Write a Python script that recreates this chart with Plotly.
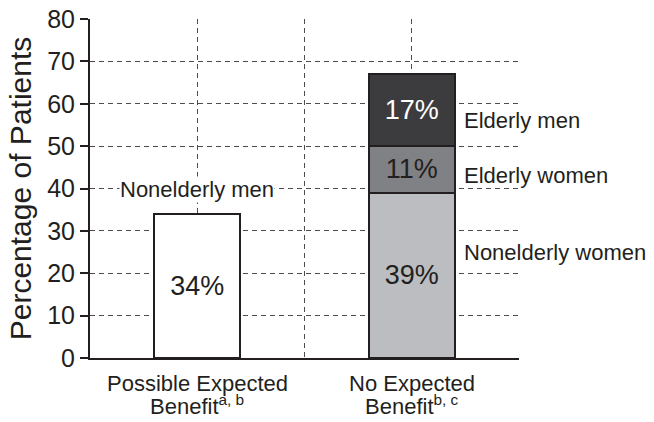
import plotly.graph_objects as go

# Data
cat_line1 = ["Possible Expected", "No Expected"]
cat_line2 = ["Benefit<sup>a, b</sup>", "Benefit<sup>b, c</sup>"]
cat_pos = [0, 2]
nonelderly_men = [34, 0]
nonelderly_women = [0, 39]
elderly_women = [0, 11]
elderly_men = [0, 17]
y_ticks = [0, 10, 20, 30, 40, 50, 60, 70, 80]

FONT = "Liberation Sans, Arial, Helvetica, sans-serif"
LINE = "#231f20"

fig = go.Figure()

def add_bar(name, vals, color, txtcolor):
    xs = [p for p, v in zip(cat_pos, vals) if v]
    ys = [v for v in vals if v]
    fig.add_trace(go.Bar(
        x=xs, y=ys, name=name, width=0.8,
        marker=dict(color=color, line=dict(color=LINE, width=2)),
        text=[f"{v}%" for v in ys], textposition="inside",
        insidetextanchor="middle", textangle=0,
        textfont=dict(family=FONT, size=27, color=txtcolor),
        showlegend=False, hoverinfo="skip",
    ))

add_bar("Nonelderly men", nonelderly_men, "#ffffff", "#231f20")
add_bar("Nonelderly women", nonelderly_women, "#bcbdc0", "#231f20")
add_bar("Elderly women", elderly_women, "#808184", "#231f20")
add_bar("Elderly men", elderly_men, "#3c3c3e", "#ffffff")

SEG = dict(family=FONT, size=22, color=LINE)
# Segment labels
fig.add_annotation(x=cat_pos[0], y=39.7, text="Nonelderly men", showarrow=False,
                   font=SEG, bgcolor="white", borderpad=0)
label_x = cat_pos[1] + 0.47
fig.add_annotation(x=label_x, y=56, text="Elderly men", xanchor="left", showarrow=False, font=SEG)
fig.add_annotation(x=label_x, y=43, text="Elderly women", xanchor="left", showarrow=False, font=SEG)
fig.add_annotation(x=label_x, y=25, text="Nonelderly women", xanchor="left", showarrow=False, font=SEG)

# Category labels (two lines each)
for p, l1, l2 in zip(cat_pos, cat_line1, cat_line2):
    fig.add_annotation(x=p, xref="x", y=0, yref="paper", yanchor="middle", yshift=-25,
                       text=l1, showarrow=False, font=SEG)
    fig.add_annotation(x=p, xref="x", y=0, yref="paper", yanchor="middle", yshift=-47,
                       text=l2, showarrow=False, font=SEG)

fig.update_layout(
    width=654, height=422,
    margin=dict(l=90, r=135, t=19, b=64),
    paper_bgcolor="white", plot_bgcolor="white",
    barmode="stack",
    font=dict(family=FONT, color=LINE),
    xaxis=dict(
        range=[-1, 3],
        tickvals=[0, 1, 2],
        showticklabels=False,
        showgrid=True, gridcolor="#4d4d4d", gridwidth=1, griddash="5px,4px",
        showline=True, linecolor=LINE, linewidth=2,
        ticks="", automargin=False,
        zeroline=False, fixedrange=True,
    ),
    yaxis=dict(
        range=[0, 80],
        tickvals=y_ticks,
        showgrid=True, gridcolor="#4d4d4d", gridwidth=1, griddash="5px,4px",
        showline=True, linecolor=LINE, linewidth=2,
        ticks="outside", ticklen=8, tickwidth=2, tickcolor=LINE,
        tickfont=dict(family=FONT, size=25, color=LINE),
        title=dict(text="Percentage of Patients", font=dict(family=FONT, size=30, color=LINE), standoff=7),
        automargin=False,
        zeroline=False, fixedrange=True,
    ),
)

fig.write_html("out.html", config={"displayModeBar": False},
               post_script="document.body.style.margin='0';document.body.style.padding='0';")
